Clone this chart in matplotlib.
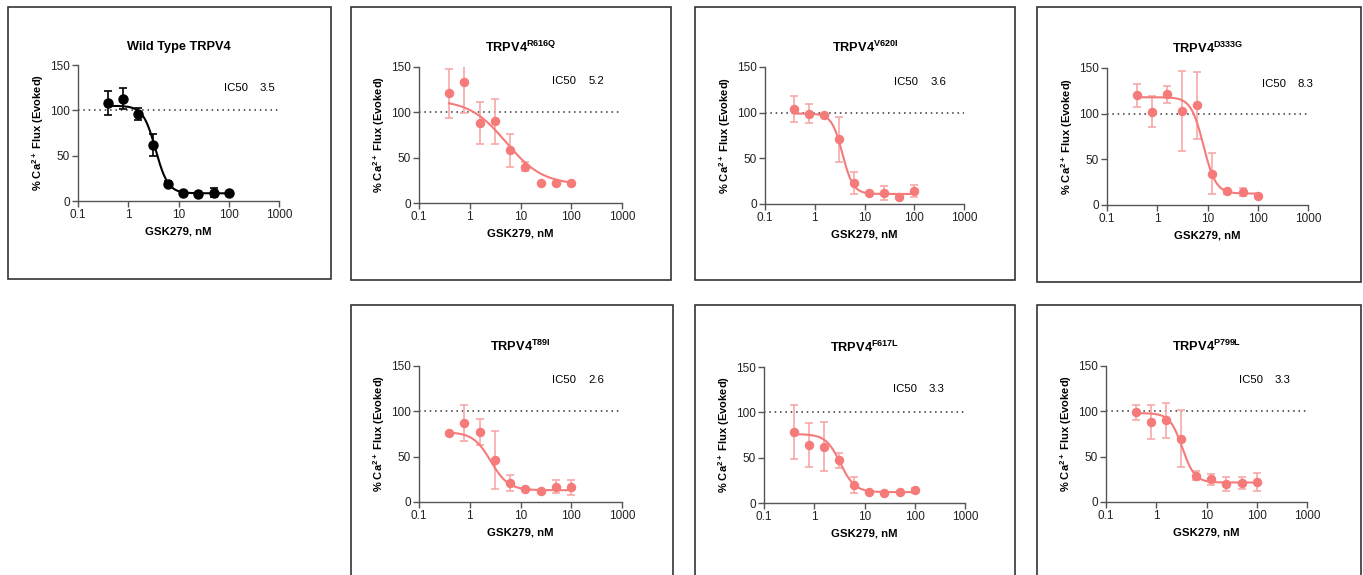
import numpy as np
import matplotlib
matplotlib.use('Agg')
import matplotlib.pyplot as plt
from matplotlib.patches import Rectangle

plt.rcParams['font.family'] = ['Liberation Sans', 'DejaVu Sans']
plt.rcParams['mathtext.fontset'] = 'custom'
plt.rcParams['mathtext.rm'] = 'Liberation Sans'
plt.rcParams['mathtext.bf'] = 'Liberation Sans:bold'

W, H = 1363, 575

# GSK279 concentrations (nM)
conc = [0.39, 0.78, 1.56, 3.125, 6.25, 12.5, 25, 50, 100]

names = ['Wild Type TRPV4', 'R616Q', 'V620I', 'D333G', 'T89I', 'F617L', 'P799L']
ic50_text = ['3.5', '5.2', '3.6', '8.3', '2.6', '3.3', '3.3']

wt_y = [108, 113, 96, 62, 19, 9, 8, 9, 8.5]
wt_err = [13.5, 11.5, 7, 12, 3, 1, 0.5, 5, 0.5]
r616q_y = [121, 133, 88, 90, 58, 40, 22, 22, 22]
r616q_err = [27, 34, 23, 25, 18, 5, 1, 1, 1]
v620i_y = [104, 99, 97, 71, 23, 12, 12, 8, 14]
v620i_err = [14, 10.5, 1, 24.5, 12.5, 1.5, 8, 1, 6.5]
d333g_y = [120, 102, 121, 103, 109, 34, 15, 14, 10]
d333g_err = [12.5, 17, 9.5, 43.5, 37, 22.5, 3, 4.5, 1]
t89i_y = [76, 87, 77, 46, 21, 14, 12, 17, 16]
t89i_err = [1, 20, 14, 32, 9, 1, 1, 7, 8]
f617l_y = [78, 64, 62, 47, 20, 12, 11, 12, 14]
f617l_err = [30, 24, 27, 8.5, 8.5, 1, 1, 1, 3]
p799l_y = [99, 88, 90, 70, 29, 25, 20, 21, 22]
p799l_err = [8.5, 18.5, 19.5, 31.5, 5, 6, 8, 7, 9.5]

# four-parameter fits: top, bottom, IC50, hill
fit_top = [105, 114, 99, 118, 77, 76, 98]
fit_bottom = [8.5, 20, 11, 12.5, 13, 12, 21.5]
fit_ic50 = [3.5, 5.2, 3.6, 8.3, 2.6, 3.3, 3.3]
fit_hill = [3.5, 1.2, 4.0, 3.5, 2.5, 3.0, 3.5]

ys = [wt_y, r616q_y, v620i_y, d333g_y, t89i_y, f617l_y, p799l_y]
errs = [wt_err, r616q_err, v620i_err, d333g_err, t89i_err, f617l_err, p799l_err]

# layout in pixels
boxes = [(8, 7, 331, 279), (351, 7, 671, 280), (695, 7, 1015, 280), (1037, 7, 1361, 282),
         (351, 305, 673, 600), (695, 305, 1015, 600), (1037, 305, 1361, 600)]
axpos = [(78, 279, 65, 201), (419, 622, 67, 203), (765, 964, 67, 204), (1107, 1308, 68, 205),
         (419, 622, 366, 502), (764, 965, 367, 503), (1106, 1307, 366, 502)]
ic50_pos = [(0.725, 0.83), (0.655, 0.9), (0.65, 0.89), (0.77, 0.88),
            (0.655, 0.9), (0.64, 0.84), (0.66, 0.9)]

fig = plt.figure(figsize=(W / 100, H / 100), dpi=100)

for b in boxes:
    x0, y0, x1, y1 = b
    fig.add_artist(Rectangle((x0 / W, 1 - y1 / H), (x1 - x0) / W, (y1 - y0) / H,
                             transform=fig.transFigure, fill=False, ec='#333333', lw=1.2))

for i in range(7):
    x0, x1, yt, yb = axpos[i]
    ax = fig.add_axes([x0 / W, 1 - yb / H, (x1 - x0) / W, (yb - yt) / H])
    if i == 0:
        c, ec, ms = 'black', 'black', 6.5
    else:
        c, ec, ms = '#F57A7A', '#F7A8A8', 5.8
    xs = np.logspace(np.log10(conc[0]), np.log10(conc[-1]), 300)
    fit = fit_bottom[i] + (fit_top[i] - fit_bottom[i]) / (1 + (xs / fit_ic50[i]) ** fit_hill[i])
    ax.axhline(100, color='#333333', ls=(0, (1, 2.5)), lw=1.1, zorder=1)
    ax.errorbar(conc, ys[i], yerr=errs[i], fmt='none', ecolor=ec, elinewidth=1.2,
                capsize=3, capthick=1.2, zorder=2)
    ax.plot(xs, fit, color=c, lw=1.5, zorder=3)
    ax.plot(conc, ys[i], 'o', color=c, ms=ms, zorder=4)

    ax.set_xscale('log')
    ax.set_xlim(0.1, 1000)
    ax.set_ylim(0, 150)
    ax.set_xticks([0.1, 1, 10, 100, 1000])
    ax.set_xticklabels(['0.1', '1', '10', '100', '1000'])
    ax.minorticks_off()
    ax.set_yticks([0, 50, 100, 150])
    for s in ['top', 'right']:
        ax.spines[s].set_visible(False)
    for s in ['left', 'bottom']:
        ax.spines[s].set_color('#555555')
        ax.spines[s].set_linewidth(1)
    ax.tick_params(colors='#555555', labelcolor='#222222', labelsize=8.5, length=4, width=1, pad=2)
    ax.set_xlabel('GSK279, nM', fontsize=8.2, fontweight='bold', labelpad=4)
    ax.set_ylabel(r'% Ca$^{\mathbf{2+}}$ Flux (Evoked)', fontsize=8, fontweight='bold', labelpad=3)
    if i == 0:
        title = names[0]
    else:
        title = r'TRPV4$^{\mathbf{' + names[i] + '}}$'
    ax.set_title(title, fontsize=9.2, fontweight='bold', pad=11)
    tx, ty = ic50_pos[i]
    ax.text(tx, ty, 'IC50', transform=ax.transAxes, fontsize=8.2, va='center')
    ax.text(tx + 0.18, ty, ic50_text[i], transform=ax.transAxes, fontsize=8.2, va='center')

fig.savefig('out.png', dpi=100)
